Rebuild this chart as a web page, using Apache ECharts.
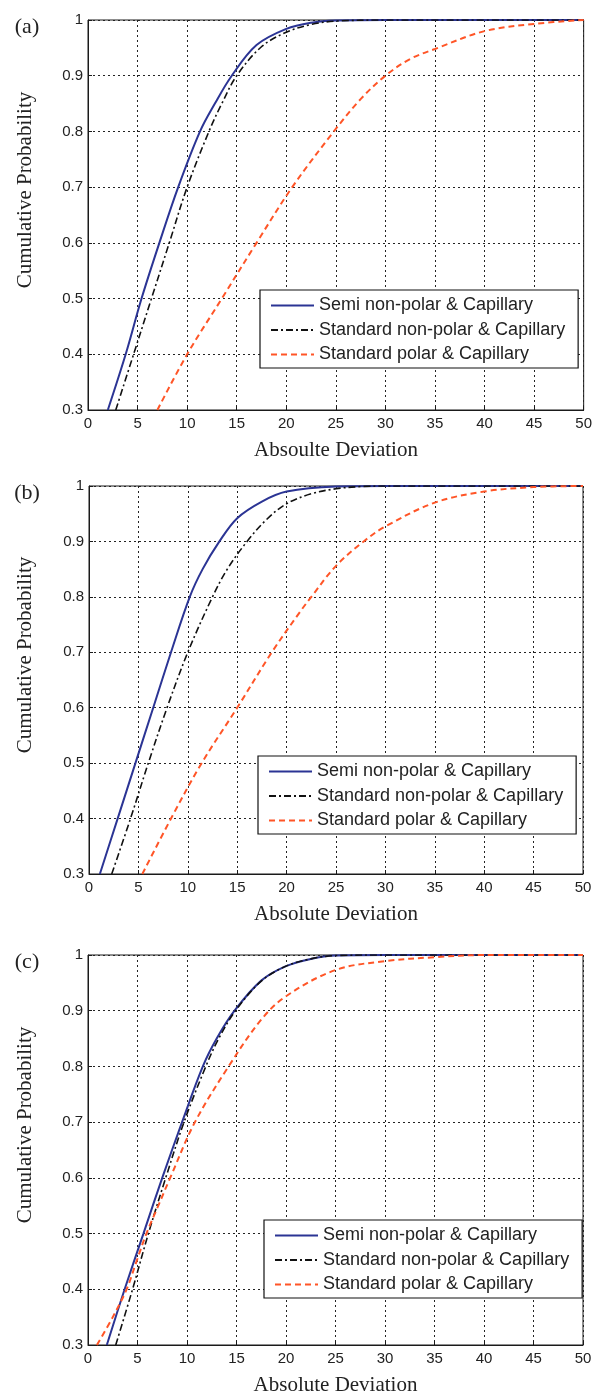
<!DOCTYPE html>
<html>
<head>
<meta charset="utf-8">
<script src="https://cdn.jsdelivr.net/npm/echarts@6/dist/echarts.min.js"></script>
<style>
  html, body { margin: 0; padding: 0; background: #fff; }
  #chart { width: 595px; height: 1396px; }
</style>
</head>
<body>
<div id="chart"></div>
<script>
// names / labels
const seriesNames = ['Semi non-polar & Capillary', 'Standard non-polar & Capillary', 'Standard polar & Capillary'];
const panelLabels = ['(a)', '(b)', '(c)'];
const xTitles = ['Absoulte Deviation', 'Absolute Deviation', 'Absolute Deviation'];
const yTitle = 'Cumulative Probability';

// panel (a) : [deviation, cumulative probability]
const semiA = [[2.0,0.30],[3.8,0.40],[5.4,0.50],[7.2,0.60],[9.1,0.70],[11.3,0.80],[12.8,0.85],[14.5,0.90],[17.0,0.955],[20,0.984],[22.5,0.995],[25,0.999],[30,1],[50,1]];
const stdNonA = [[2.8,0.30],[4.6,0.40],[6.4,0.50],[8.2,0.60],[10.0,0.70],[12.2,0.80],[13.5,0.85],[15.0,0.90],[17.5,0.952],[20,0.978],[22.5,0.992],[25,0.998],[30,1],[50,1]];
const stdPolA = [[7.0,0.30],[10.0,0.40],[13.5,0.50],[17.0,0.60],[20.6,0.70],[24.8,0.80],[27.5,0.858],[30,0.90],[32.5,0.93],[35,0.948],[40,0.98],[45,0.993],[50,1]];

// panel (b)
const semiB = [[1.1,0.30],[2.9,0.40],[4.7,0.50],[6.5,0.60],[8.3,0.70],[10.2,0.80],[11.5,0.85],[13.2,0.90],[15,0.942],[17.5,0.972],[20,0.99],[25,0.999],[30,1],[50,1]];
const stdNonB = [[2.3,0.30],[4.2,0.40],[6.0,0.50],[7.9,0.60],[10.0,0.70],[12.5,0.80],[14.0,0.85],[16.0,0.90],[18,0.94],[20,0.968],[22.5,0.986],[25,0.995],[27.5,0.999],[30,1],[50,1]];
const stdPolB = [[5.4,0.30],[8.3,0.40],[11.4,0.50],[15.0,0.60],[18.5,0.70],[21.4,0.774],[22.5,0.80],[25,0.856],[27.8,0.90],[30,0.927],[35,0.97],[40,0.99],[45,0.998],[50,1]];

// panel (c)
const semiC = [[1.9,0.30],[3.7,0.40],[5.6,0.50],[7.5,0.60],[9.5,0.70],[11.6,0.80],[13.0,0.85],[14.8,0.90],[17.5,0.954],[20,0.98],[22.5,0.993],[25,0.999],[30,1],[50,1]];
const stdNonC = [[2.8,0.30],[4.5,0.40],[6.1,0.50],[7.85,0.60],[9.7,0.70],[11.9,0.80],[13.2,0.85],[14.9,0.90],[17.5,0.953],[20,0.98],[22.5,0.993],[25,0.999],[30,1],[50,1]];
const stdPolC = [[0.9,0.30],[2.5,0.35],[3.9,0.40],[4.9,0.45],[5.9,0.50],[7.1,0.55],[8.3,0.60],[10.8,0.70],[14.2,0.80],[17.5,0.884],[20,0.926],[25,0.973],[30,0.989],[35,0.996],[40,1],[50,1]];

const panelData = [
  [semiA, stdNonA, stdPolA],
  [semiB, stdNonB, stdPolB],
  [semiC, stdNonC, stdPolC]
];

// layout
const gridTop = [20, 486, 955];
const gridHeight = [390, 388, 390];
const gridLeft = [88, 89, 88];
const gridRight = [11, 12, 12];
const legendLeft = [260, 258, 264];
const legendTop = [290, 756, 1220];

const SANS = 'Liberation Sans, Arial, sans-serif';
const SERIF = 'Liberation Serif, Times New Roman, serif';

const lineStyles = [
  {color: '#2b3494', width: 2, type: 'solid'},
  {color: '#111111', width: 1.6, type: [7, 3, 2, 3]},
  {color: '#ff5527', width: 2, type: [6, 4]}
];

const chart = echarts.init(document.getElementById('chart'));

const grid = [], xAxis = [], yAxis = [], series = [], legend = [], graphic = [];

panelData.forEach((lines, p) => {
  grid.push({
    left: gridLeft[p], right: gridRight[p], top: gridTop[p], height: gridHeight[p],
    show: true, borderColor: '#1a1a1a', borderWidth: 1, backgroundColor: '#fff'
  });
  xAxis.push({
    type: 'value', gridIndex: p, min: 0, max: 50, interval: 5,
    axisLine: {show: true, onZero: false, lineStyle: {color: '#1a1a1a', width: 1}},
    axisTick: {show: true, inside: true, length: 4, lineStyle: {color: '#1a1a1a'}},
    axisLabel: {color: '#222', fontFamily: SANS, fontSize: 15, margin: 6},
    splitLine: {show: true, lineStyle: {color: '#222', width: 1, type: [2, 3]}}
  });
  yAxis.push({
    type: 'value', gridIndex: p, min: 0.3, max: 1, interval: 0.1,
    axisLine: {show: true, onZero: false, lineStyle: {color: '#1a1a1a', width: 1}},
    axisTick: {show: true, inside: true, length: 4, lineStyle: {color: '#1a1a1a'}},
    axisLabel: {color: '#222', fontFamily: SANS, fontSize: 15, margin: 5},
    splitLine: {show: true, lineStyle: {color: '#222', width: 1, type: [2, 3]}}
  });
  lines.forEach((d, i) => {
    series.push({
      name: seriesNames[i],
      type: 'line',
      xAxisIndex: p, yAxisIndex: p,
      data: d,
      symbol: 'none',
      smooth: 0.35,
      lineStyle: lineStyles[i],
      itemStyle: {color: lineStyles[i].color},
      z: 3 + i
    });
  });
  legend.push({
    orient: 'vertical',
    left: legendLeft[p], top: legendTop[p],
    data: seriesNames,
    selectedMode: false,
    itemWidth: 43, itemHeight: 14, itemGap: 6.5,
    padding: [6.5, 13, 4.5, 10],
    borderColor: '#111', borderWidth: 1.2, borderRadius: 0,
    backgroundColor: '#fff',
    itemStyle: {opacity: 0},
    textStyle: {color: '#222', fontFamily: SANS, fontSize: 18, lineHeight: 17},
    z: 10
  });

  const midX = gridLeft[p] + (595 - gridLeft[p] - gridRight[p]) / 2;
  const bottom = gridTop[p] + gridHeight[p];
  graphic.push({
    type: 'text', x: midX, y: bottom + 40,
    style: {text: xTitles[p], font: '21px ' + SERIF, fill: '#222', align: 'center', verticalAlign: 'middle'}
  });
  graphic.push({
    type: 'text', x: 25, y: gridTop[p] + gridHeight[p] / 2 - 25, rotation: Math.PI / 2,
    style: {text: yTitle, font: '21px ' + SERIF, fill: '#222', align: 'center', verticalAlign: 'middle'}
  });
  graphic.push({
    type: 'text', x: 27, y: gridTop[p] + 7,
    style: {text: panelLabels[p], font: '22px ' + SERIF, fill: '#222', align: 'center', verticalAlign: 'middle'}
  });
});

chart.setOption({
  animation: false,
  backgroundColor: '#fff',
  grid, xAxis, yAxis, series, legend, graphic
});
</script>
</body>
</html>
